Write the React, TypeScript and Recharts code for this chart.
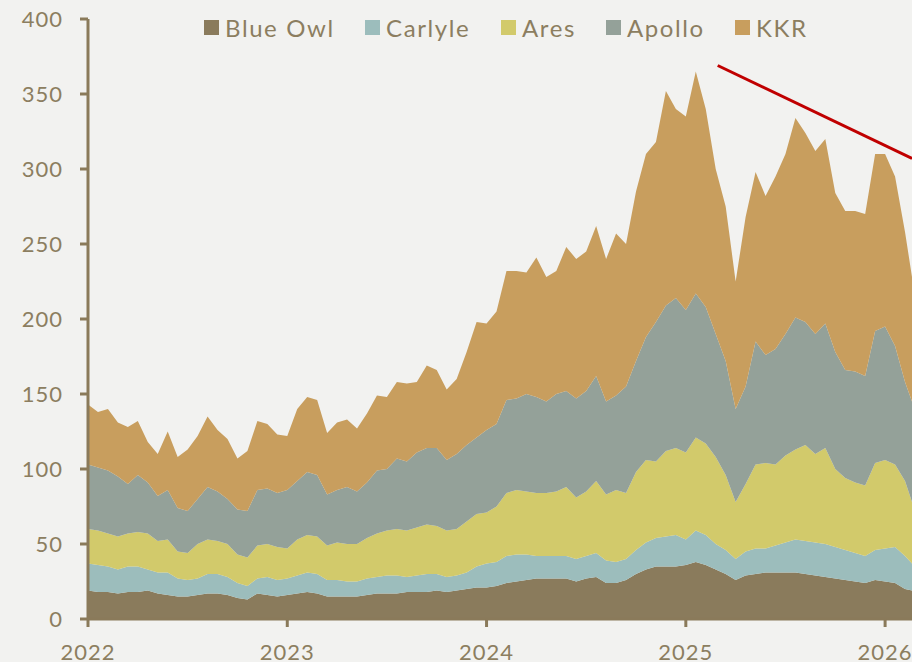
import React from 'react';
import { AreaChart, Area, XAxis, YAxis, ReferenceLine } from 'recharts';

// fractional years, roughly every 18 days, Jan 2022 to mid Feb 2026
const years = [
  2022.0, 2022.05, 2022.1, 2022.15, 2022.2, 2022.25, 2022.3, 2022.35, 2022.4, 2022.45,
  2022.5, 2022.55, 2022.6, 2022.65, 2022.7, 2022.75, 2022.8, 2022.85, 2022.9, 2022.95,
  2023.0, 2023.05, 2023.1, 2023.15, 2023.2, 2023.25, 2023.3, 2023.35, 2023.4, 2023.45,
  2023.5, 2023.55, 2023.6, 2023.65, 2023.7, 2023.75, 2023.8, 2023.85, 2023.9, 2023.95,
  2024.0, 2024.05, 2024.1, 2024.15, 2024.2, 2024.25, 2024.3, 2024.35, 2024.4, 2024.45,
  2024.5, 2024.55, 2024.6, 2024.65, 2024.7, 2024.75, 2024.8, 2024.85, 2024.9, 2024.95,
  2025.0, 2025.05, 2025.1, 2025.15, 2025.2, 2025.25, 2025.3, 2025.35, 2025.4, 2025.45,
  2025.5, 2025.55, 2025.6, 2025.65, 2025.7, 2025.75, 2025.8, 2025.85, 2025.9, 2025.95,
  2026.0, 2026.05, 2026.1, 2026.135,
];

const blueOwl = [
  19, 18, 18, 17, 18, 18, 19, 17, 16, 15,
  15, 16, 17, 17, 16, 14, 13, 17, 16, 15,
  16, 17, 18, 17, 15, 15, 15, 15, 16, 17,
  17, 17, 18, 18, 18, 19, 18, 19, 20, 21,
  21, 22, 24, 25, 26, 27, 27, 27, 27, 25,
  27, 28, 24, 24, 26, 30, 33, 35, 35, 35,
  36, 38, 36, 33, 30, 26, 29, 30, 31, 31,
  31, 31, 30, 29, 28, 27, 26, 25, 24, 26,
  25, 24, 20, 19,
];
const carlyle = [
  18, 18, 17, 16, 17, 17, 14, 14, 15, 12,
  11, 11, 13, 13, 12, 10, 9, 10, 12, 11,
  11, 12, 13, 13, 11, 11, 10, 10, 11, 11,
  12, 12, 10, 11, 12, 11, 10, 10, 11, 14,
  16, 16, 18, 18, 17, 15, 15, 15, 15, 15,
  15, 16, 15, 14, 14, 16, 18, 19, 20, 21,
  17, 21, 20, 17, 16, 14, 16, 17, 16, 18,
  20, 22, 22, 22, 22, 21, 20, 19, 18, 20,
  22, 24, 22, 18,
];
const ares = [
  23, 23, 22, 22, 22, 23, 24, 21, 22, 18,
  18, 23, 23, 22, 22, 19, 19, 22, 22, 22,
  20, 24, 25, 25, 23, 25, 25, 25, 27, 29,
  30, 31, 31, 32, 33, 32, 31, 31, 34, 35,
  34, 37, 42, 43, 42, 42, 42, 43, 46, 41,
  43, 48, 44, 48, 44, 52, 55, 51, 57, 58,
  58, 62, 61, 58, 50, 38, 45, 56, 57, 54,
  58, 60, 64, 59, 64, 52, 48, 47, 47, 58,
  59, 55, 50, 41,
];
const apollo = [
  43, 42, 42, 40, 33, 38, 34, 30, 33, 29,
  28, 30, 35, 33, 30, 30, 31, 37, 37, 36,
  39, 39, 42, 41, 34, 35, 38, 35, 37, 42,
  41, 47, 46, 50, 51, 52, 47, 50, 51, 51,
  55, 55, 62, 61, 65, 64, 61, 65, 64, 66,
  67, 70, 62, 63, 71, 74, 82, 93, 97, 100,
  95, 96, 91, 82, 76, 62, 65, 82, 72, 77,
  81, 88, 82, 80, 83, 78, 72, 74, 73, 88,
  89, 79, 66, 67,
];
const kkr = [
  40, 37, 41, 36, 38, 36, 27, 28, 39, 34,
  41, 42, 47, 41, 40, 34, 40, 46, 43, 39,
  36, 48, 50, 50, 41, 45, 45, 42, 46, 50,
  48, 51, 52, 47, 55, 52, 47, 50, 62, 77,
  71, 75, 86, 85, 81, 93, 83, 82, 96, 93,
  93, 100, 95, 108, 95, 113, 122, 120, 143, 126,
  129, 148, 132, 110, 103, 85, 113, 113, 106, 115,
  120, 133, 126, 122, 123, 106, 106, 107, 108, 118,
  115, 113, 100, 83,
];

const yTicks = [0, 50, 100, 150, 200, 250, 300, 350, 400];
const xTicks = [2022, 2023, 2024, 2025, 2026];

// falling trend line over the 2025 peaks
const trendX = [2025.16, 2026.135];
const trendY = [369, 307];

const series = [
  { key: 'blueOwl', name: 'Blue Owl', color: '#8a7b5c', legendX: 204 },
  { key: 'carlyle', name: 'Carlyle', color: '#9cbdbc', legendX: 365 },
  { key: 'ares', name: 'Ares', color: '#d2ca6b', legendX: 501 },
  { key: 'apollo', name: 'Apollo', color: '#94a199', legendX: 606 },
  { key: 'kkr', name: 'KKR', color: '#c89e5e', legendX: 735 },
];

const data = years.map((t, i) => ({
  t,
  blueOwl: blueOwl[i],
  carlyle: carlyle[i],
  ares: ares[i],
  apollo: apollo[i],
  kkr: kkr[i],
}));

const TEXT = '#8c7e60';
const AXIS = '#8a7a5a';
const FONT = 'Lato, "Open Sans", sans-serif';

export default function App() {
  return (
    <div
      style={{
        position: 'absolute',
        left: 0,
        top: 0,
        width: 912,
        height: 662,
        overflow: 'hidden',
        background: '#f2f2f0',
        fontFamily: FONT,
      }}
    >
      <AreaChart width={912} height={662} data={data} margin={{ top: 19, right: 0, left: 0, bottom: 0 }}>
        <XAxis
          dataKey="t"
          type="number"
          domain={[2022, 2026.135]}
          ticks={xTicks}
          allowDataOverflow
          height={43}
          stroke={AXIS}
          strokeWidth={3}
          tickSize={8}
          tickMargin={17}
          tick={{ fill: TEXT, fontSize: 22, fontFamily: FONT, letterSpacing: 1 }}
          tickLine={{ stroke: AXIS, strokeWidth: 3 }}
        />
        <YAxis
          domain={[0, 400]}
          ticks={yTicks}
          width={88}
          stroke={AXIS}
          strokeWidth={3}
          tickSize={8}
          tickMargin={17}
          tick={{ fill: TEXT, fontSize: 22, fontFamily: FONT, letterSpacing: 1 }}
          tickLine={{ stroke: AXIS, strokeWidth: 3 }}
        />
        {series.map((s) => (
          <Area
            key={s.key}
            dataKey={s.key}
            name={s.name}
            stackId="1"
            type="linear"
            fill={s.color}
            fillOpacity={1}
            stroke="none"
            isAnimationActive={false}
          />
        ))}
        <ReferenceLine
          segment={[
            { x: trendX[0], y: trendY[0] },
            { x: trendX[1], y: trendY[1] },
          ]}
          stroke="#c00000"
          strokeWidth={3}
          ifOverflow="visible"
        />
      </AreaChart>
      {series.map((s) => (
        <div
          key={s.key}
          style={{ position: 'absolute', left: s.legendX, top: 12, display: 'flex', alignItems: 'center', height: 30 }}
        >
          <span style={{ display: 'inline-block', width: 15, height: 15, background: s.color, marginRight: 6 }} />
          <span style={{ color: TEXT, fontSize: 24, letterSpacing: 1.6, whiteSpace: 'nowrap' }}>{s.name}</span>
        </div>
      ))}
    </div>
  );
}
